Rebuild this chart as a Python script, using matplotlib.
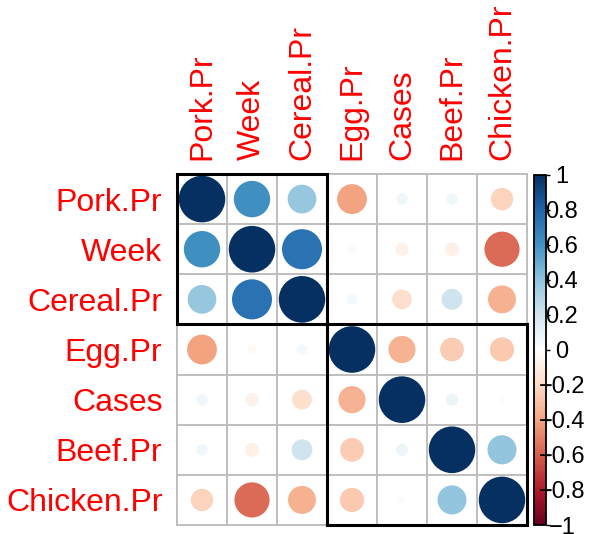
import numpy as np
import matplotlib
matplotlib.use("Agg")
import matplotlib.pyplot as plt
from matplotlib.colors import LinearSegmentedColormap, Normalize
from matplotlib.cm import ScalarMappable
from matplotlib.patches import Circle, Rectangle

plt.rcParams["font.family"] = ["Liberation Sans", "DejaVu Sans"]

variables = ["Pork.Pr", "Week", "Cereal.Pr", "Egg.Pr", "Cases", "Beef.Pr", "Chicken.Pr"]

corr = np.array([
    [ 1.00,  0.61,  0.38, -0.41,  0.06,  0.06, -0.23],
    [ 0.61,  1.00,  0.74, -0.04, -0.08, -0.09, -0.57],
    [ 0.38,  0.74,  1.00,  0.05, -0.18,  0.20, -0.36],
    [-0.41, -0.04,  0.05,  1.00, -0.34, -0.26, -0.27],
    [ 0.06, -0.08, -0.18, -0.34,  1.00,  0.07,  0.02],
    [ 0.06, -0.09,  0.20, -0.26,  0.07,  1.00,  0.39],
    [-0.23, -0.57, -0.36, -0.27,  0.02,  0.39,  1.00],
])

# hierarchical cluster groups (start index, size)
clusters = [(0, 3), (3, 4)]

cbar_ticks = [-1.0, -0.8, -0.6, -0.4, -0.2, 0.0, 0.2, 0.4, 0.6, 0.8, 1.0]

rdbu = ["#67001F", "#B2182B", "#D6604D", "#F4A582", "#FDDBC7", "#FFFFFF",
        "#D1E5F0", "#92C5DE", "#4393C3", "#2166AC", "#053061"]
cmap = LinearSegmentedColormap.from_list("RdBu200", rdbu, N=200)
norm = Normalize(-1, 1)

W, H = 589, 534
fig = plt.figure(figsize=(W / 100, H / 100), dpi=100)


def box(x0, y0, x1, y1):
    return [x0 / W, 1 - y1 / H, (x1 - x0) / W, (y1 - y0) / H]


n = len(variables)
ax = fig.add_axes(box(177, 174, 527, 525))
ax.set_xlim(0, n)
ax.set_ylim(n, 0)
for s in ax.spines.values():
    s.set_visible(False)

# cell grid
for k in range(n + 1):
    ax.axhline(k, color="#BEBEBE", lw=1.4, clip_on=False, zorder=1)
    ax.axvline(k, color="#BEBEBE", lw=1.4, clip_on=False, zorder=1)

# circles: area proportional to |r|
for i in range(n):
    for j in range(n):
        r = corr[i, j]
        rad = 0.465 * np.sqrt(abs(r))
        ax.add_patch(Circle((j + 0.5, i + 0.5), rad, facecolor=cmap(norm(r)),
                            edgecolor="none", zorder=2))

# cluster rectangles
for start, size in clusters:
    ax.add_patch(Rectangle((start, start), size, size, fill=False,
                           edgecolor="black", lw=2.2, zorder=3, clip_on=False))

ax.set_xticks(np.arange(n) + 0.5)
ax.set_xticklabels(variables, rotation=90, color="red", fontsize=23)
ax.set_yticks(np.arange(n) + 0.5)
ax.set_yticklabels(variables, color="red", fontsize=23)
ax.xaxis.tick_top()
ax.tick_params(axis="x", length=0, pad=10)
ax.tick_params(axis="y", length=0, pad=10.5)

# colour legend
cax = fig.add_axes(box(534, 175, 546, 525))
cb = fig.colorbar(ScalarMappable(norm=norm, cmap=cmap), cax=cax, ticks=cbar_ticks)
cb.outline.set_linewidth(1.3)
labels = [("%g" % round(v, 1)).replace("-", "\u2212") for v in cbar_ticks]
cb.set_ticklabels(labels)
cax.tick_params(length=3, width=1, pad=8.5, labelsize=17)
for t in cax.get_yticklabels():
    t.set_horizontalalignment("center")

fig.savefig("out.png", dpi=100, facecolor="white")
